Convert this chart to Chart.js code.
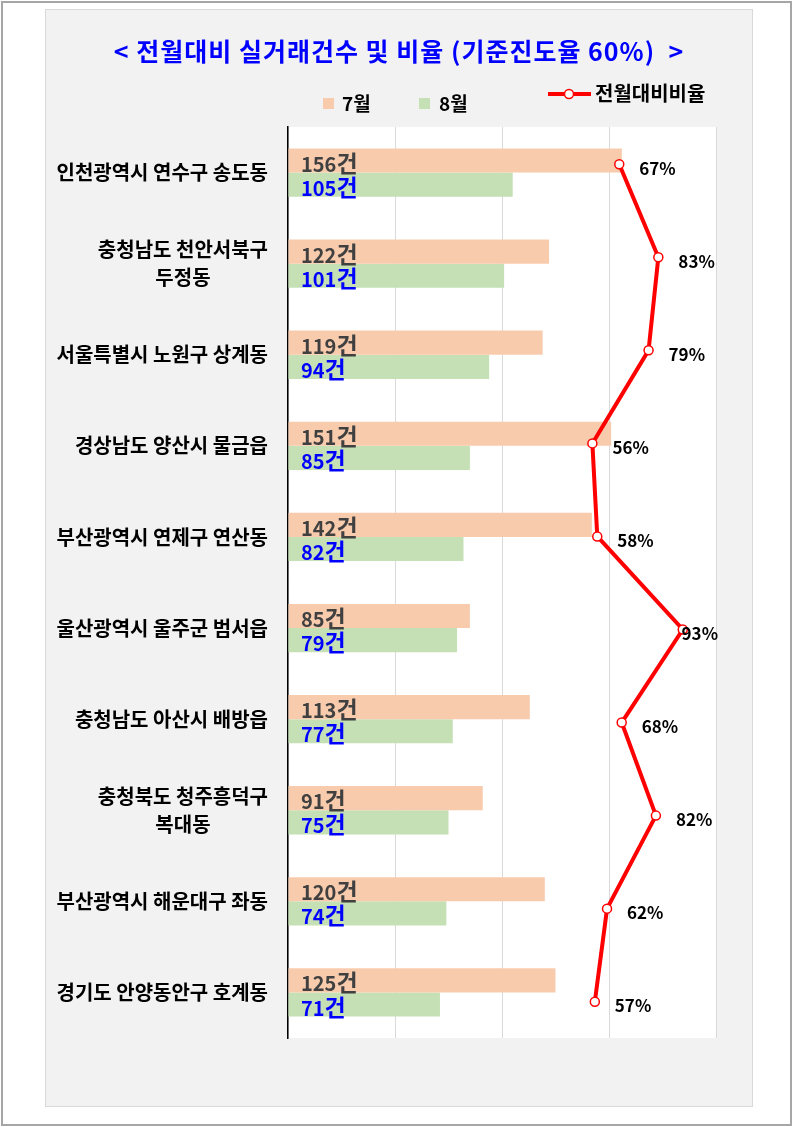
<!DOCTYPE html>
<html>
<head>
<meta charset="utf-8">
<script src="https://cdn.jsdelivr.net/npm/chart.js@4.4.1/dist/chart.umd.min.js"></script>
<style>
  html, body { margin: 0; padding: 0; background: #fff; }
  #frame {
    position: absolute; left: 1px; top: 1px; width: 787px; height: 1121px;
    border: 2px solid #a6a6a6;
  }
  #panel {
    position: absolute; left: 45px; top: 9px; width: 706px; height: 1096px;
    background: #f2f2f2; border: 1px solid #d9d9d9;
  }
  #panel canvas { position: absolute; left: 0; top: 0; display: block; }
  #ratioChart { pointer-events: none; }
</style>
</head>
<body>
<div id="frame"></div>
<div id="panel">
  <canvas id="chart" width="706" height="1096"></canvas>
  <canvas id="ratioChart" width="706" height="1096"></canvas>
</div>
<script>
const title = '< 전월대비 실거래건수 및 비율 (기준진도율 60%)  >';
const regions = [
  '인천광역시 연수구 송도동',
  ['충청남도 천안서북구', '두정동'],
  '서울특별시 노원구 상계동',
  '경상남도 양산시 물금읍',
  '부산광역시 연제구 연산동',
  '울산광역시 울주군 범서읍',
  '충청남도 아산시 배방읍',
  ['충청북도 청주흥덕구', '복대동'],
  '부산광역시 해운대구 좌동',
  '경기도 안양동안구 호계동',
];
const julyCounts = [156, 122, 119, 151, 142, 85, 113, 91, 120, 125];
const augCounts = [105, 101, 94, 85, 82, 79, 77, 75, 74, 71];
const ratios = [67, 83, 79, 56, 58, 93, 68, 82, 62, 57];
const seriesNames = ['7월', '8월', '전월대비비율'];
const countUnit = '건';

const FONT = "'Noto Sans CJK KR', 'Noto Sans', sans-serif";
const JULY_COLOR = '#f8cbad';
const AUG_COLOR = '#c5e0b4';
const LINE_COLOR = '#ff0000';
// both canvases share the same plot box
const PLOT_PADDING = { left: 242, top: 117, right: 36, bottom: 68 };

const barDecor = {
  id: 'barDecor',
  beforeDraw(chart) {
    const { ctx, chartArea: a } = chart;
    ctx.save();
    ctx.fillStyle = '#ffffff';
    ctx.fillRect(a.left, a.top, a.right - a.left, a.bottom - a.top);
    ctx.restore();
  },
  afterDatasetsDraw(chart) {
    const { ctx, chartArea: a } = chart;
    ctx.save();
    ctx.textBaseline = 'alphabetic';
    ctx.textAlign = 'left';
    // counts written inside the bars
    [[0, julyCounts, '#404040'], [1, augCounts, '#0000ff']].forEach(([di, values, color]) => {
      chart.getDatasetMeta(di).data.forEach((bar, i) => {
        const base = bar.y + bar.height / 2 - 1;
        const x = a.left + 13;
        ctx.fillStyle = color;
        ctx.font = 'bold 20px ' + FONT;
        const num = String(values[i]);
        ctx.fillText(num, x, base);
        const w = ctx.measureText(num).width;
        ctx.font = 'bold 23px ' + FONT;
        ctx.fillText(countUnit, x + w, base);
      });
    });
    ctx.restore();
  },
  afterDraw(chart) {
    const { ctx, chartArea: a } = chart;
    const yScale = chart.scales.y;
    ctx.save();

    ctx.fillStyle = '#0000ff';
    ctx.font = 'bold 25px ' + FONT;
    ctx.letterSpacing = '1px';
    ctx.textAlign = 'center';
    ctx.textBaseline = 'middle';
    ctx.fillText(title, chart.width / 2, 41);
    ctx.letterSpacing = '0px';

    // region names; the two-line ones are centred on each other
    ctx.fillStyle = '#000';
    ctx.font = 'bold 20px ' + FONT;
    const right = a.left - 20;
    regions.forEach((label, i) => {
      const y = yScale.getPixelForTick(i);
      const lines = Array.isArray(label) ? label : [label];
      const maxW = Math.max(...lines.map(l => ctx.measureText(l).width));
      const cx = right - maxW / 2;
      lines.forEach((l, k) => {
        ctx.fillText(l, cx, y + (k - (lines.length - 1) / 2) * 28);
      });
    });

    // legend
    ctx.textAlign = 'left';
    ctx.font = 'bold 19px ' + FONT;
    ctx.fillStyle = JULY_COLOR;
    ctx.fillRect(277, 88, 11, 11);
    ctx.fillStyle = AUG_COLOR;
    ctx.fillRect(373, 88, 11, 11);
    ctx.fillStyle = '#000';
    ctx.fillText(seriesNames[0], 296, 94);
    ctx.fillText(seriesNames[1], 393, 94);

    ctx.strokeStyle = LINE_COLOR;
    ctx.lineWidth = 4;
    ctx.beginPath();
    ctx.moveTo(502, 84);
    ctx.lineTo(545, 84);
    ctx.stroke();
    ctx.beginPath();
    ctx.arc(523, 84, 4.5, 0, Math.PI * 2);
    ctx.fillStyle = '#fff';
    ctx.fill();
    ctx.lineWidth = 1.5;
    ctx.stroke();
    ctx.fillStyle = '#000';
    ctx.font = 'bold 20px ' + FONT;
    ctx.fillText(seriesNames[2], 549, 83);
    ctx.restore();
  },
};

const ratioLabels = {
  id: 'ratioLabels',
  afterDatasetsDraw(chart) {
    const { ctx, chartArea: a } = chart;
    ctx.save();
    ctx.font = 'bold 17px ' + FONT;
    ctx.fillStyle = '#000';
    ctx.textBaseline = 'middle';
    ctx.textAlign = 'left';
    chart.getDatasetMeta(0).data.forEach((pt, i) => {
      const txt = ratios[i] + '%';
      const w = ctx.measureText(txt).width;
      // keep the label inside the plot box, like the original
      const x = Math.min(pt.x + 20, a.right + 2 - w);
      ctx.fillText(txt, x, pt.y + 4);
    });
    ctx.restore();
  },
};

new Chart(document.getElementById('chart'), {
  type: 'bar',
  data: {
    labels: regions,
    datasets: [
      {
        label: seriesNames[0],
        data: julyCounts,
        backgroundColor: JULY_COLOR,
      },
      {
        label: seriesNames[1],
        data: augCounts,
        backgroundColor: AUG_COLOR,
      },
    ],
  },
  options: {
    indexAxis: 'y',
    responsive: false,
    animation: false,
    categoryPercentage: 0.53,
    barPercentage: 1,
    layout: { padding: PLOT_PADDING },
    plugins: {
      legend: { display: false },
      tooltip: { enabled: false },
    },
    scales: {
      x: {
        min: 0,
        max: 200,
        ticks: { display: false, stepSize: 50 },
        grid: { color: '#d9d9d9', lineWidth: 1, drawTicks: false },
        border: { display: false },
        afterFit(s) { s.height = 0; },
      },
      y: {
        ticks: { display: false },
        grid: { display: false, drawTicks: false },
        border: { display: true, color: '#000', width: 1.5 },
        afterFit(s) { s.width = 0; },
      },
    },
  },
  plugins: [barDecor],
});

// the ratio line sits on its own scales, as in the original sheet
new Chart(document.getElementById('ratioChart'), {
  type: 'line',
  data: {
    datasets: [
      {
        label: seriesNames[2],
        data: ratios.map((r, i) => ({ x: r, y: i })),
        borderColor: LINE_COLOR,
        borderWidth: 4,
        pointRadius: 4.5,
        pointBorderWidth: 1.5,
        pointBackgroundColor: '#fff',
        pointBorderColor: LINE_COLOR,
        tension: 0,
      },
    ],
  },
  options: {
    indexAxis: 'y',
    responsive: false,
    animation: false,
    layout: { padding: PLOT_PADDING },
    plugins: {
      legend: { display: false },
      tooltip: { enabled: false },
    },
    scales: {
      x: { type: 'linear', display: false, min: -68.6, max: 106.6 },
      y: { type: 'linear', display: false, reverse: true, min: -0.4, max: 9.39 },
    },
  },
  plugins: [ratioLabels],
});
</script>
</body>
</html>
